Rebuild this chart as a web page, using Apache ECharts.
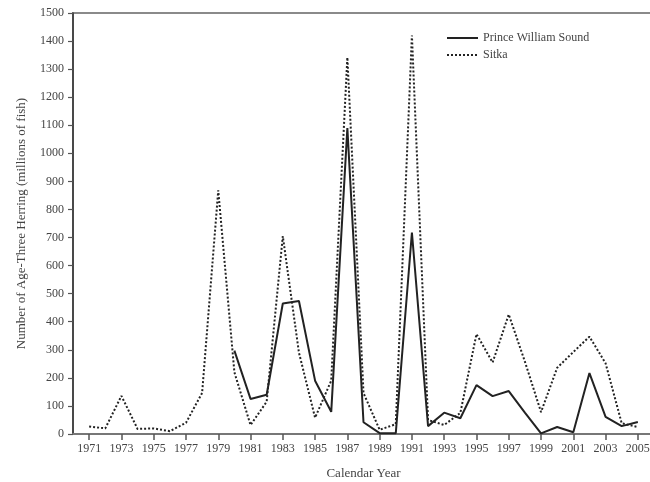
<!DOCTYPE html>
<html>
<head>
<meta charset="utf-8">
<script src="https://cdn.jsdelivr.net/npm/echarts@6/dist/echarts.min.js"></script>
<style>html,body{margin:0;padding:0;background:#fff;}#chart{width:650px;height:482px;}</style>
</head>
<body>
<div id="chart"></div>
<script>
// Calendar years shown on the chart
const years = [1971,1972,1973,1974,1975,1976,1977,1978,1979,1980,1981,1982,1983,1984,1985,1986,1987,1988,1989,1990,1991,1992,1993,1994,1995,1996,1997,1998,1999,2000,2001,2002,2003,2004,2005];
// Sitka age-three herring (millions of fish), 1971-2005
const sitka = [27,20,136,18,20,10,40,146,868,220,32,115,705,290,58,190,1342,146,15,35,1420,50,32,75,356,255,426,258,78,236,292,347,252,38,25];
// Prince William Sound age-three herring (millions of fish), 1980-2005
const pwsStart = 1980;
const pws = [297,125,140,465,474,190,79,1090,42,3,3,718,28,76,56,174,135,153,76,2,25,6,217,61,28,43];
const yTicks = [0,100,200,300,400,500,600,700,800,900,1000,1100,1200,1300,1400,1500];

const cats = [String(years[0]-1)].concat(years.map(String), [String(years[years.length-1]+1)]);
const sitkaData = cats.map(c => { const i = years.indexOf(+c); return i >= 0 ? sitka[i] : null; });
const pwsData = cats.map(c => { const i = +c - pwsStart; return (i >= 0 && i < pws.length) ? pws[i] : null; });

const font = 'Liberation Serif';
const chart = echarts.init(document.getElementById('chart'), null, {renderer:'canvas'});
chart.setOption({
  animation: false,
  backgroundColor: '#fff',
  textStyle: {fontFamily: font, color: '#444'},
  grid: {left: 73, right: -4, top: 13, bottom: 48, containLabel: false, outerBoundsMode: 'none',
         show: true, borderColor: '#8a8a8a', borderWidth: 2, backgroundColor: 'transparent'},
  legend: {
    orient: 'vertical', left: 441, top: 27, itemWidth: 31, itemHeight: 12, itemGap: 5,
    itemStyle: {opacity: 0},
    textStyle: {fontFamily: font, fontSize: 12, color: '#444'},
    data: ['Prince William Sound', 'Sitka']
  },
  xAxis: {
    type: 'category', data: cats, boundaryGap: false,
    name: 'Calendar Year', nameLocation: 'middle', nameGap: 33,
    nameTextStyle: {fontFamily: font, fontSize: 13, color: '#444'},
    axisLine: {lineStyle: {color: '#777', width: 2}},
    axisTick: {show: true, inside: false, length: 6, lineStyle: {color: '#555', width: 1.5},
      interval: (i, v) => (+v) % 2 === 1},
    axisLabel: {interval: (i, v) => (+v) % 2 === 1, margin: 9, fontFamily: font, fontSize: 12, color: '#444'},
    splitLine: {show: false}
  },
  yAxis: {
    type: 'value', min: yTicks[0], max: yTicks[yTicks.length-1], interval: 100,
    name: 'Number of Age-Three Herring (millions of fish)', nameLocation: 'middle', nameGap: 45,
    nameTextStyle: {fontFamily: font, fontSize: 13, color: '#444'},
    axisLine: {show: true, lineStyle: {color: '#333', width: 1.5}},
    axisTick: {show: true, length: 5, lineStyle: {color: '#555', width: 1.2}},
    axisLabel: {margin: 9, fontFamily: font, fontSize: 12, color: '#444', formatter: v => String(v)},
    splitLine: {show: false}
  },
  series: [
    {name: 'Prince William Sound', type: 'line', data: pwsData, symbol: 'none', connectNulls: false,
     lineStyle: {color: '#222', width: 2, type: 'solid'}, itemStyle: {color: '#222'}, z: 3},
    {name: 'Sitka', type: 'line', data: sitkaData, symbol: 'none', connectNulls: false,
     lineStyle: {color: '#222', width: 2, type: [2, 2]}, itemStyle: {color: '#222'}, z: 2}
  ]
});
</script>
</body>
</html>
